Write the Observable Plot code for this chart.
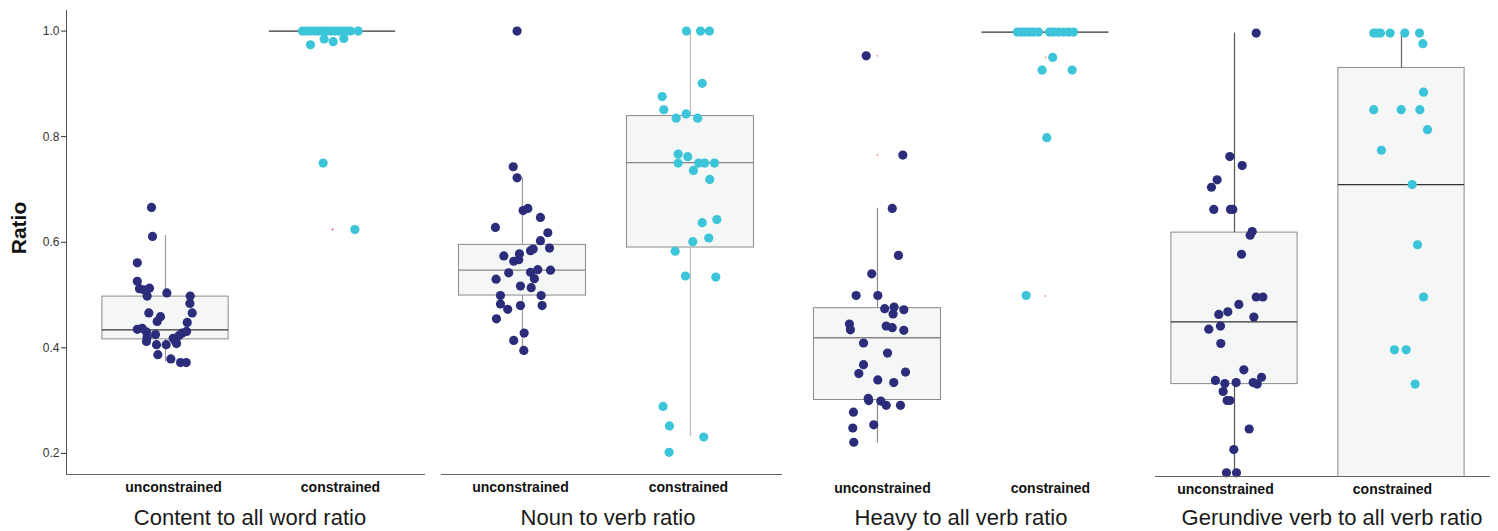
<!DOCTYPE html>
<html><head><meta charset="utf-8">
<script src="https://cdn.jsdelivr.net/npm/d3@7"></script>
<script src="https://cdn.jsdelivr.net/npm/@observablehq/plot@0.6"></script>
<style>
html,body{margin:0;padding:0;background:#fff;}
#root{position:relative;width:1498px;height:531px;background:#fff;overflow:hidden;font-family:"Liberation Sans",Arial,sans-serif;}
.panel{position:absolute;}
.ptitle{position:absolute;top:505px;width:420px;text-align:center;font-size:22px;line-height:26px;color:#1a1a1a;white-space:nowrap;}
#ylab{position:absolute;left:19px;top:228px;transform:translate(-50%,-50%) rotate(-90deg);font-size:21px;font-weight:bold;color:#111;white-space:nowrap;}
</style></head>
<body><div id="root"><div id="ylab">Ratio</div></div>
<script>
const groups = ["unconstrained", "constrained"];
const panelTitles = ["Content to all word ratio", "Noun to verb ratio", "Heavy to all verb ratio", "Gerundive verb to all verb ratio"];
const yTicks = [0.2, 0.4, 0.6, 0.8, 1.0];

// box statistics per panel: [unconstrained, constrained]
const boxQ1  = [[0.416, 1.0], [0.499, 0.590], [0.303, 1.0], [0.335, 0.10]];
const boxMed = [[0.434, 1.0], [0.547, 0.751], [0.421, 1.0], [0.453, 0.713]];
const boxQ3  = [[0.497, 1.0], [0.595, 0.839], [0.477, 1.0], [0.622, 0.934]];
const whiskLo = [[0.373, 1.0], [0.394, 0.232], [0.221, 1.0], [0.167, 0.10]];
const whiskHi = [[0.613, 1.0], [0.722, 1.0], [0.666, 1.0], [1.0, 1.0]];

// points: values and horizontal jitter (in category units)
const p1UncV = [0.666,0.611,0.561,0.526,0.512,0.510,0.513,0.498,0.504,0.498,0.484,0.466,0.466,0.459,0.450,0.448,0.431,0.428,0.423,0.435,0.437,0.430,0.420,0.412,0.425,0.418,0.412,0.408,0.406,0.406,0.387,0.379,0.372,0.372];
const p1UncJ = [-0.084,-0.078,-0.169,-0.169,-0.156,-0.130,-0.096,-0.110,0.008,0.148,0.146,0.160,-0.100,-0.030,-0.050,0.130,0.126,0.100,0.080,-0.169,-0.140,-0.114,-0.110,-0.114,-0.060,0.046,0.060,0.066,-0.054,0.004,-0.046,0.032,0.090,0.124];
const p1ConV = [1,1,1,1,1,1,1,1,1,1,1,1,1,1,0.974,0.985,0.980,0.986,0.750,0.624];
const p1ConJ = [-0.18,-0.156,-0.132,-0.108,-0.084,-0.06,-0.036,-0.012,0.012,0.036,0.06,0.084,0.108,0.154,-0.132,-0.05,0.004,0.068,-0.056,0.134];

const p2UncV = [1.0,0.743,0.722,0.660,0.664,0.647,0.628,0.618,0.603,0.589,0.584,0.587,0.574,0.578,0.567,0.564,0.542,0.543,0.548,0.547,0.531,0.530,0.517,0.514,0.499,0.499,0.483,0.473,0.480,0.480,0.455,0.428,0.414,0.395];
const p2UncJ = [-0.032,-0.055,-0.032,0.004,0.032,0.107,-0.161,0.151,0.107,0.161,0.048,0.064,-0.111,-0.018,-0.022,-0.052,-0.082,0.048,0.091,0.167,0.071,-0.157,-0.012,0.052,-0.131,0.111,-0.131,-0.088,-0.012,0.117,-0.155,0.010,-0.052,0.008];
const p2ConV = [1.0,1.0,1.0,0.901,0.876,0.851,0.843,0.835,0.835,0.767,0.762,0.750,0.750,0.750,0.750,0.736,0.719,0.643,0.637,0.608,0.601,0.583,0.536,0.534,0.289,0.252,0.231,0.202];
const p2ConJ = [-0.024,0.060,0.113,0.070,-0.168,-0.159,-0.026,-0.085,0.043,-0.073,-0.016,-0.073,0.049,0.085,0.143,0.018,0.115,0.157,0.070,0.109,0.014,-0.091,-0.030,0.151,-0.163,-0.125,0.079,-0.127];

const p3UncV = [0.955,0.767,0.666,0.577,0.542,0.501,0.501,0.476,0.479,0.474,0.466,0.447,0.436,0.443,0.440,0.435,0.411,0.392,0.370,0.353,0.356,0.341,0.336,0.306,0.302,0.301,0.293,0.293,0.280,0.250,0.256,0.223];
const p3UncJ = [-0.067,0.151,0.088,0.125,-0.034,-0.127,0.002,0.043,0.099,0.157,0.093,-0.167,-0.161,0.052,0.088,0.157,-0.083,0.060,-0.083,-0.111,0.167,0.002,0.097,-0.055,-0.052,0.020,0.052,0.137,-0.143,-0.147,-0.022,-0.141];
const p3ConV = [1,1,1,1,1,1,1,1,1,1,1,1,0.952,0.928,0.928,0.800,0.501];
const p3ConJ = [-0.167,-0.143,-0.119,-0.095,-0.071,-0.042,0.024,0.048,0.077,0.107,0.137,0.167,0.043,-0.020,0.159,0.008,-0.115];

const p4UncV = [1.0,0.766,0.749,0.722,0.708,0.666,0.666,0.666,0.624,0.617,0.581,0.500,0.500,0.486,0.467,0.472,0.462,0.439,0.445,0.412,0.362,0.342,0.336,0.338,0.321,0.338,0.335,0.348,0.304,0.304,0.250,0.211,0.167,0.167];
const p4UncJ = [0.130,-0.028,0.046,-0.104,-0.138,-0.124,-0.024,-0.010,0.106,0.094,0.042,0.130,0.170,0.026,-0.094,-0.040,0.116,-0.154,-0.084,-0.082,0.056,-0.114,-0.058,0.010,-0.068,0.112,0.136,0.162,-0.044,-0.028,0.088,-0.004,-0.048,0.012];
const p4ConV = [1.0,1.0,1.0,1.0,1.0,1.0,0.980,0.888,0.855,0.855,0.855,0.817,0.778,0.713,0.599,0.500,0.400,0.400,0.335];
const p4ConJ = [-0.166,-0.146,-0.126,-0.068,0.020,0.108,0.128,0.132,-0.166,-0.002,0.110,0.156,-0.120,0.064,0.096,0.132,-0.042,0.028,0.082];

// tiny outlier markers of the box plots
const outUnc = [[], [], [0.955, 0.767], []];
const outCon = [[0.624], [], [0.952, 0.50], []];

const pointSets = [
  [p1UncV, p1UncJ, p1ConV, p1ConJ],
  [p2UncV, p2UncJ, p2ConV, p2ConJ],
  [p3UncV, p3UncJ, p3ConV, p3ConJ],
  [p4UncV, p4UncJ, p4ConV, p4ConJ]
];

// layout / style (not data)
const layout = [
  {left: 0,    top: 0, width: 430, ml: 66, mr: 5, xDom: [0.407, 2.557], xLine: true,  yAxis: true,  tickDx: 8,  tc: 250,
   whisk: ["#9a9a9a", "#9a9a9a"], med: ["#333", "#333"], outFill: "#e84a5f"},
  {left: 430,  top: 0, width: 355, ml: 11, mr: 3, xDom: [0.518, 2.548], xLine: true,  yAxis: false, tickDx: -2, tc: 608,
   whisk: ["#999", "#bdbdbd"], med: ["#858585", "#858585"], outFill: "#e84a5f"},
  {left: 785,  top: 1, width: 355, ml: 12, mr: 5, xDom: [0.524, 2.536], xLine: false, yAxis: false, tickDx: 5,  tc: 961,
   whisk: ["#8a8a8a", "#8a8a8a"], med: ["#858585", "#333"], outFill: "#f4a88a"},
  {left: 1140, top: 2, width: 358, ml: 15, mr: 8, xDom: [0.527, 2.533], xLine: true,  yAxis: false, tickDx: -9, tc: 1332,
   whisk: ["#555", "#666"], med: ["#333", "#333"], outFill: "#e84a5f"}
];
const yDom = [0.16, 1.039];
const hw = 0.378;
const navy = "#2b2d7a", cyan = "#3cc4d8";

const root = document.getElementById("root");

layout.forEach((L, i) => {
  const boxes = [0, 1].map(g => ({
    cat: g + 1, q1: boxQ1[i][g], med: boxMed[i][g], q3: boxQ3[i][g],
    lo: whiskLo[i][g], hi: whiskHi[i][g], wc: L.whisk[g], mc: L.med[g]
  }));
  const [uv, uj, cv, cj] = pointSets[i];
  const pts = [
    ...uv.map((v, k) => ({cat: 1, v, dx: uj[k], g: 0})),
    ...cv.map((v, k) => ({cat: 2, v, dx: cj[k], g: 1}))
  ];
  const outs = [
    ...outUnc[i].map(v => ({cat: 1, v})),
    ...outCon[i].map(v => ({cat: 2, v}))
  ];
  const marks = [
    Plot.rect(boxes, {x1: d => d.cat - hw, x2: d => d.cat + hw, y1: "q1", y2: "q3",
      fill: "#f5f7f6", stroke: "#8a8a8a", strokeWidth: 1, clip: true}),
    Plot.ruleX(boxes, {x: "cat", y1: "lo", y2: "q1", stroke: d => d.wc, strokeWidth: 1.2, clip: true}),
    Plot.ruleX(boxes, {x: "cat", y1: "q3", y2: "hi", stroke: d => d.wc, strokeWidth: 1.2, clip: true}),
    Plot.ruleY(boxes, {y: "med", x1: d => d.cat - hw, x2: d => d.cat + hw, stroke: d => d.mc, strokeWidth: 1.3, clip: true}),
    Plot.dot(outs, {x: "cat", y: "v", r: 1, fill: L.outFill, stroke: null}),
    Plot.dot(pts, {x: d => d.cat + d.dx, y: "v", r: 4.6, fill: d => d.g === 0 ? navy : cyan, stroke: null}),
    Plot.axisX([1, 2], {tickFormat: d => groups[d - 1], tickSize: 0, tickPadding: 8, fontSize: 14,
      fontWeight: "bold", color: "#111", label: null, dx: L.tickDx})
  ];
  if (L.xLine) marks.push(Plot.ruleY([yDom[0]], {stroke: "#666", strokeWidth: 1}));
  if (L.yAxis) {
    marks.push(Plot.ruleX([L.xDom[0]], {stroke: "#555", strokeWidth: 1}));
    marks.push(Plot.axisY(yTicks, {tickFormat: d3.format(".1f"), tickSize: 5, tickPadding: 2,
      fontSize: 12, color: "#333", label: null}));
  }
  const chart = Plot.plot({
    width: L.width, height: 500,
    marginLeft: L.ml, marginRight: L.mr, marginTop: 10, marginBottom: 26,
    x: {type: "linear", domain: L.xDom, axis: null},
    y: {domain: yDom, axis: null},
    style: {background: "transparent", fontFamily: "Liberation Sans, Arial, sans-serif", overflow: "visible"},
    marks
  });
  const div = document.createElement("div");
  div.className = "panel";
  div.style.left = L.left + "px";
  div.style.top = L.top + "px";
  div.appendChild(chart);
  root.appendChild(div);

  const t = document.createElement("div");
  t.className = "ptitle";
  t.style.left = (L.tc - 210) + "px";
  t.textContent = panelTitles[i];
  root.appendChild(t);
});
</script>
</body></html>
